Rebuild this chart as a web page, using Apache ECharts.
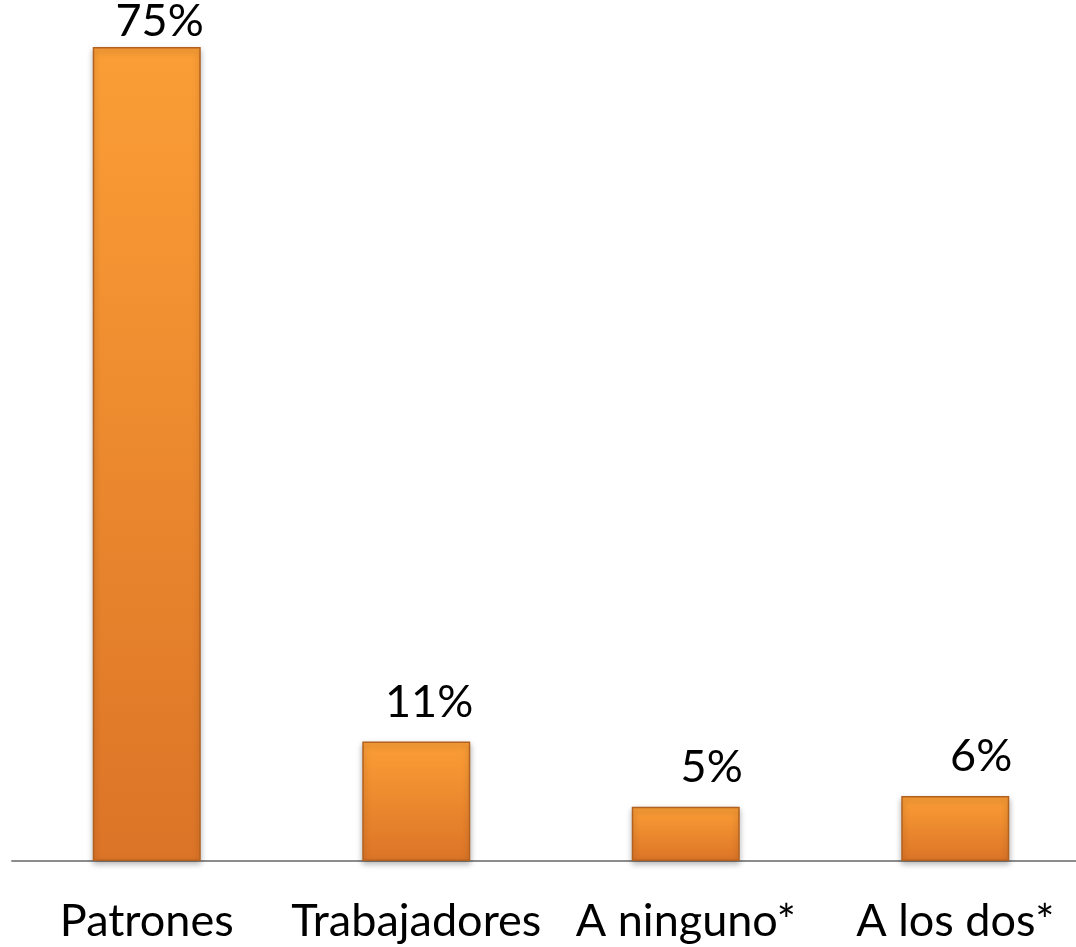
<!DOCTYPE html>
<html>
<head>
<meta charset="utf-8">
<script src="https://cdn.jsdelivr.net/npm/echarts@6/dist/echarts.min.js"></script>
<style>
  html, body { margin: 0; padding: 0; background: #ffffff; }
  #chart { width: 1076px; height: 947px; }
</style>
</head>
<body>
<div id="chart"></div>
<script>
  // categorias y porcentajes
  const categories = ['Patrones', 'Trabajadores', 'A ninguno*', 'A los dos*']
  const values = [75, 11, 5, 6]

  const chart = echarts.init(document.getElementById('chart'))
  const barFill = new echarts.graphic.LinearGradient(0, 0, 0, 1, [
    { offset: 0, color: '#fb9e36' },
    { offset: 1, color: '#dc7427' }
  ])

  // la etiqueta de la barra mas alta queda pegada a la barra (no cabe arriba)
  const barData = values.map((v, i) => i === 0
    ? { value: v, label: { position: ['100%', -3] } }
    : v)

  const option = {
    animation: false,
    grid: {
      left: 12,
      width: 1078,
      top: 47,
      bottom: 86,
      containLabel: false,
      outerBoundsMode: 'none'
    },
    xAxis: {
      type: 'category',
      data: categories,
      axisLine: { lineStyle: { color: '#8c8c8c', width: 2 } },
      axisTick: { show: false },
      axisLabel: {
        interval: 0,
        margin: 38,
        fontFamily: 'Lato',
        fontSize: 45,
        color: '#000'
      }
    },
    yAxis: {
      type: 'value',
      min: 0,
      max: 75,
      show: false,
      splitLine: { show: false }
    },
    series: [
      {
        type: 'bar',
        data: barData,
        barWidth: 108,
        itemStyle: {
          color: barFill,
          borderColor: '#b3611f',
          borderWidth: 1.5,
          shadowColor: 'rgba(0,0,0,0.3)',
          shadowBlur: 6,
          shadowOffsetY: 3
        },
        label: {
          show: true,
          position: ['100%', -17],
          align: 'right',
          verticalAlign: 'bottom',
          offset: [3, 0],
          formatter: '{c}%',
          fontFamily: 'Lato',
          fontSize: 45,
          color: '#000'
        }
      }
    ]
  }
  chart.setOption(option)
</script>
</body>
</html>
